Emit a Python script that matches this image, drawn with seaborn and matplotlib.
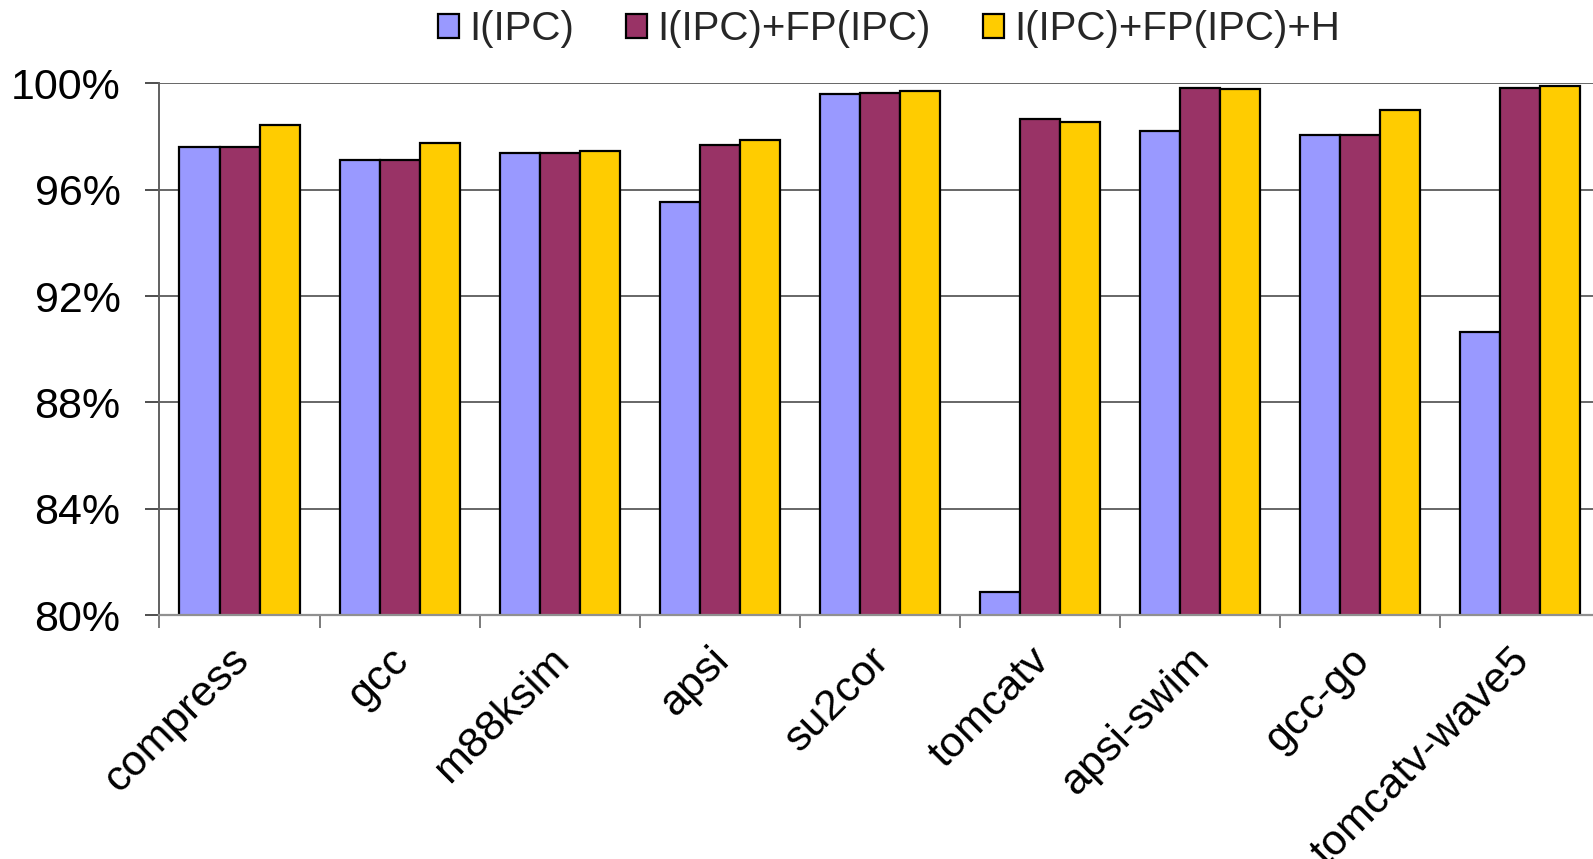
import matplotlib
matplotlib.use("Agg")
import matplotlib.pyplot as plt
from matplotlib.ticker import FixedLocator, FuncFormatter
from matplotlib.transforms import ScaledTranslation
import pandas as pd
import seaborn as sns

# Benchmarks and the accuracy (%) of each predictor configuration
benchmarks = ["compress", "gcc", "m88ksim", "apsi", "su2cor",
              "tomcatv", "apsi-swim", "gcc-go", "tomcatv-wave5"]
configs = ["I(IPC)", "I(IPC)+FP(IPC)", "I(IPC)+FP(IPC)+H"]
i_ipc = [97.61, 97.12, 97.37, 95.54, 99.60, 80.87, 98.22, 98.06, 90.65]
i_fp_ipc = [97.61, 97.12, 97.37, 97.69, 99.64, 98.68, 99.84, 98.06, 99.83]
i_fp_ipc_h = [98.45, 97.76, 97.46, 97.87, 99.70, 98.55, 99.78, 99.00, 99.89]
colors = ["#9999FF", "#993366", "#FFCC00"]
y_ticks = [80, 84, 88, 92, 96, 100]

df = pd.DataFrame({
    "benchmark": benchmarks * 3,
    "config": [c for c in configs for _ in benchmarks],
    "value": i_ipc + i_fp_ipc + i_fp_ipc_h,
})

sns.set_theme(style="white")
plt.rcParams["font.family"] = ["Liberation Sans", "DejaVu Sans"]

fig = plt.figure(figsize=(15.93, 8.59), dpi=100)
ax = fig.add_axes([0.1001, 0.284, 0.9046, 0.6188])

sns.barplot(data=df, x="benchmark", y="value", hue="config",
            order=benchmarks, hue_order=configs, palette=colors,
            width=0.75, edgecolor="black", linewidth=1.6,
            saturation=1, ax=ax, legend=True)

ax.set_ylim(80, 100)
ax.set_xlim(-0.5, len(benchmarks) - 0.5)
ax.yaxis.set_major_locator(FixedLocator(y_ticks))
ax.yaxis.set_major_formatter(FuncFormatter(lambda v, p: f"{v:.0f}%"))
ax.set_xlabel("")
ax.set_ylabel("")

ax.set_axisbelow(True)
ax.yaxis.grid(True, color="#5a5a5a", linewidth=1.3)
ax.xaxis.grid(False)

for side in ("top", "right"):
    ax.spines[side].set_visible(False)
ax.spines["left"].set_color("#606060")
ax.spines["left"].set_linewidth(1.4)
ax.spines["bottom"].set_color("#909090")
ax.spines["bottom"].set_linewidth(1.6)

# category separators below the axis
ax.xaxis.set_minor_locator(FixedLocator([i - 0.5 for i in range(len(benchmarks) + 1)]))
ax.tick_params(axis="x", which="minor", bottom=True, length=9, width=1.3,
               color="#707070", direction="out")
ax.tick_params(axis="x", which="major", bottom=True, length=0, pad=18,
               labelsize=31, labelcolor="black")
ax.tick_params(axis="y", which="major", left=True, length=10, width=1.3,
               color="#404040", direction="out", pad=18,
               labelsize=31, labelcolor="black")

for lab in ax.get_xticklabels():
    lab.set_rotation(45)
    lab.set_ha("right")
    lab.set_va("top")
    lab.set_rotation_mode("anchor")
    lab.set_transform(lab.get_transform() + ScaledTranslation(-11 / 100, 0, fig.dpi_scale_trans))

handles, labels = ax.get_legend_handles_labels()
ax.get_legend().remove()
fig.legend(handles, labels, loc="upper center", bbox_to_anchor=(0.558, 1.03),
           ncol=3, frameon=False, fontsize=29, handlelength=0.52,
           handleheight=0.55, handletextpad=0.25, columnspacing=1.3)

fig.savefig("out.png", dpi=100)
